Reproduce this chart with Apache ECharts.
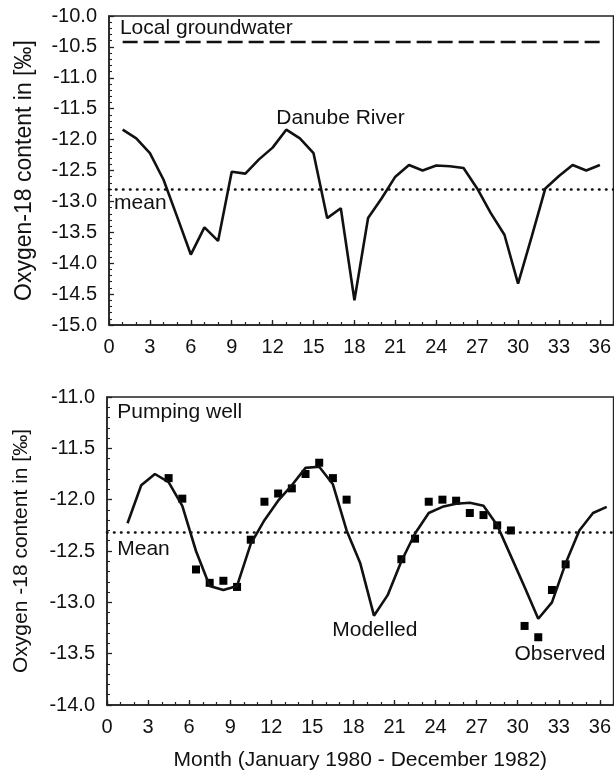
<!DOCTYPE html>
<html>
<head>
<meta charset="utf-8">
<script src="https://cdn.jsdelivr.net/npm/echarts@6/dist/echarts.min.js"></script>
<style>
  html, body { margin: 0; padding: 0; background: #fff; }
  #chart { width: 614px; height: 775px; }
</style>
</head>
<body>
<div id="chart"></div>
<script>
// Danube River, monthly oxygen-18 content (per mil), Jan 1980 = month 1
const riverMonths = [1, 2, 3, 4, 5, 6, 7, 8, 9, 10, 11, 12,
  13, 14, 15, 16, 17, 18, 19, 20, 21, 22, 23, 24,
  25, 26, 27, 28, 29, 30, 31, 32, 33, 34, 35, 36];
const riverValues = [-11.84, -11.98, -12.22, -12.65, -13.25, -13.86, -13.42, -13.64, -12.52, -12.55, -12.32, -12.13,
  -11.84, -11.98, -12.22, -13.27, -13.11, -14.60, -13.27, -12.95, -12.60, -12.41, -12.50, -12.42,
  -12.43, -12.46, -12.79, -13.19, -13.54, -14.33, -13.57, -12.79, -12.59, -12.41, -12.50, -12.41];
const groundwaterMonths = [1, 36];
const groundwaterValue = -10.42;
const riverMean = -12.8;

// Pumping well: modelled curve and observed samples (mid-month)
const modelMonths = [1.5, 2.5, 3.5, 4.5, 5.5, 6.5, 7.5, 8.5, 9.5, 10.5, 11.5, 12.5,
  13.5, 14.5, 15.5, 16.5, 17.5, 18.5, 19.5, 20.5, 21.5, 22.5, 23.5, 24.5,
  25.5, 26.5, 27.5, 28.5, 29.5, 30.5, 31.5, 32.5, 33.5, 34.5, 35.5, 36.5];
const modelValues = [-12.23, -11.86, -11.75, -11.83, -12.06, -12.50, -12.84, -12.88, -12.84, -12.43, -12.20, -12.01,
  -11.86, -11.69, -11.68, -11.85, -12.30, -12.62, -13.13, -12.93, -12.60, -12.33, -12.13, -12.07,
  -12.04, -12.03, -12.06, -12.25, -12.55, -12.85, -13.16, -13.00, -12.62, -12.30, -12.13, -12.07];
const observedMonths = [4.5, 5.5, 6.5, 7.5, 8.5, 9.5, 10.5, 11.5, 12.5, 13.5, 14.5, 15.5, 16.5, 17.5,
  21.5, 22.5, 23.5, 24.5, 25.5, 26.5, 27.5, 28.5, 29.5, 30.5, 31.5, 32.5, 33.5];
const observedValues = [-11.79, -11.99, -12.68, -12.81, -12.79, -12.85, -12.39, -12.02, -11.94, -11.89, -11.75, -11.64, -11.79, -12.00,
  -12.58, -12.38, -12.02, -12.00, -12.01, -12.13, -12.15, -12.25, -12.30, -13.23, -13.34, -12.88, -12.63];
const wellMean = -12.32;

// Annotation texts anchored in data coordinates [month, value] (left edge, vertical middle)
const riverNotes = [
  { text: 'Local groundwater', at: [0.8, -10.19] },
  { text: 'Danube River', at: [12.27, -11.65] },
  { text: 'mean', at: [0.37, -13.03] }
];
const wellNotes = [
  { text: 'Pumping well', at: [0.75, -11.15] },
  { text: 'Mean', at: [0.75, -12.48] },
  { text: 'Modelled', at: [16.45, -13.27] },
  { text: 'Observed', at: [29.76, -13.51] }
];

const FONT = "'Liberation Sans', Arial, Helvetica, sans-serif";
const INK = '#111';
const FRAME = '#222';

const pairs = (xs, ys) => xs.map((x, i) => [x, ys[i]]);

function mainX(gridIndex, withName) {
  return {
    type: 'value', gridIndex, position: 'bottom',
    min: 0, max: 37, interval: 3,
    axisLine: { show: true, onZero: false, lineStyle: { color: FRAME, width: 1.5 } },
    axisTick: { show: true, inside: true, length: 5, lineStyle: { color: FRAME, width: 1.3 } },
    axisLabel: { show: true, margin: 12, fontSize: 20, color: INK, fontFamily: FONT, showMaxLabel: false },
    splitLine: { show: false },
    name: withName ? 'Month (January 1980 - December 1982)' : '',
    nameLocation: 'middle', nameGap: 45,
    nameTextStyle: { fontSize: 21, color: INK, fontFamily: FONT }
  };
}
function monthTicks(gridIndex) {
  return {
    type: 'value', gridIndex, position: 'bottom',
    min: 0, max: 37, interval: 1,
    axisLine: { show: false, onZero: false },
    axisTick: { show: true, inside: true, length: 3, lineStyle: { color: FRAME, width: 1.2 } },
    axisLabel: { show: false },
    splitLine: { show: false }
  };
}
function valueY(gridIndex, min, max, name, nameSize, nameGap) {
  return {
    type: 'value', gridIndex, min, max, interval: 0.5,
    axisLine: { show: true, onZero: false, lineStyle: { color: FRAME, width: 1.5 } },
    axisTick: { show: true, inside: true, length: 5, lineStyle: { color: FRAME, width: 1.3 } },
    minorTick: { show: true, splitNumber: 5, length: 3, lineStyle: { color: FRAME, width: 1.1 } },
    axisLabel: { margin: 12, fontSize: 20, color: INK, fontFamily: FONT, formatter: v => v.toFixed(1) },
    splitLine: { show: false },
    name, nameLocation: 'middle', nameGap,
    nameTextStyle: { fontSize: nameSize, color: INK, fontFamily: FONT }
  };
}
function meanLine(value) {
  return {
    silent: true, symbol: 'none', label: { show: false },
    lineStyle: { color: INK, width: 2.6, type: [0.5, 6.5], cap: 'round' },
    data: [{ yAxis: value }]
  };
}

const chart = echarts.init(document.getElementById('chart'), null, { renderer: 'canvas' });
chart.setOption({
  animation: false,
  backgroundColor: '#fff',
  grid: [
    { left: 109, top: 16, right: -2, height: 309, show: true, borderColor: FRAME, borderWidth: 1.5, containLabel: false },
    { left: 107, top: 397, right: -1, height: 308, show: true, borderColor: FRAME, borderWidth: 1.5, containLabel: false }
  ],
  xAxis: [mainX(0, false), monthTicks(0), mainX(1, true), monthTicks(1)],
  yAxis: [
    valueY(0, -15, -10, 'Oxygen-18 content in [‰]', 23, 73),
    valueY(1, -14, -11, 'Oxygen -18 content in [‰]', 21, 75)
  ],
  series: [
    {
      name: 'Local groundwater', type: 'line', xAxisIndex: 0, yAxisIndex: 0,
      data: groundwaterMonths.map(m => [m, groundwaterValue]),
      symbol: 'none', lineStyle: { color: INK, width: 2.5, type: [15, 6] }
    },
    {
      name: 'Danube River', type: 'line', xAxisIndex: 0, yAxisIndex: 0,
      data: pairs(riverMonths, riverValues),
      symbol: 'none', lineStyle: { color: INK, width: 2.6 },
      markLine: meanLine(riverMean)
    },
    {
      name: 'Modelled', type: 'line', xAxisIndex: 2, yAxisIndex: 1,
      data: pairs(modelMonths, modelValues),
      symbol: 'none', lineStyle: { color: INK, width: 2.6 },
      markLine: meanLine(wellMean)
    },
    {
      name: 'Observed', type: 'scatter', xAxisIndex: 2, yAxisIndex: 1,
      data: pairs(observedMonths, observedValues),
      symbol: 'rect', symbolSize: 8, itemStyle: { color: '#000', opacity: 1 }
    }
  ]
});

// Place the annotation texts through the axes' own coordinate conversion
function noteGraphics(notes, xAxisIndex, yAxisIndex) {
  return notes.map(n => {
    const p = chart.convertToPixel({ xAxisIndex, yAxisIndex }, n.at);
    return {
      type: 'text', x: p[0], y: p[1], silent: true,
      style: { text: n.text, fill: INK, font: '21px ' + FONT, textAlign: 'left', textVerticalAlign: 'middle' }
    };
  });
}
chart.setOption({
  graphic: [].concat(noteGraphics(riverNotes, 0, 0), noteGraphics(wellNotes, 2, 1))
});
</script>
</body>
</html>
